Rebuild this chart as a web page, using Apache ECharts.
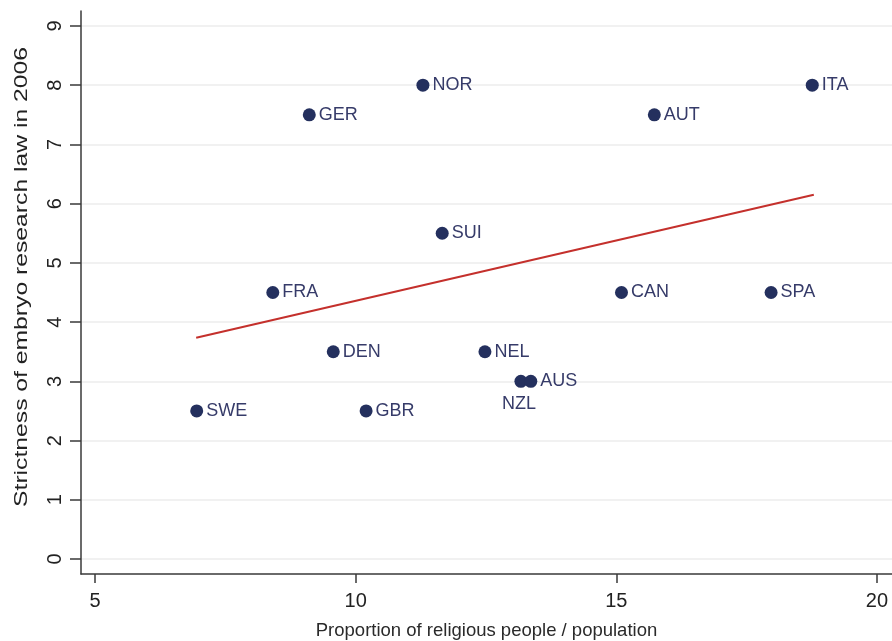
<!DOCTYPE html>
<html>
<head>
<meta charset="utf-8">
<script src="https://cdn.jsdelivr.net/npm/echarts@6/dist/echarts.min.js"></script>
<style>
  html, body { margin: 0; padding: 0; background: #fff; }
  #chart { width: 892px; height: 641px; }
</style>
</head>
<body>
<div id="chart"></div>
<script>
// Country codes with religiosity share and embryo research law strictness
const countries = ['SWE', 'FRA', 'GER', 'DEN', 'GBR', 'NOR', 'SUI', 'NEL', 'NZL', 'AUS', 'CAN', 'AUT', 'SPA', 'ITA'];
const religious = [6.95, 8.41, 9.11, 9.57, 10.20, 11.29, 11.66, 12.48, 13.17, 13.36, 15.10, 15.73, 17.97, 18.76];
const strictness = [2.5, 4.5, 7.5, 3.5, 2.5, 8, 5.5, 3.5, 3, 3, 4.5, 7.5, 4.5, 8];

// Fitted linear trend, drawn between its two end points
const fitX = [6.94, 18.79];
const fitY = [3.737, 6.152];

// Tick positions
const xTicks = [5, 10, 15, 20];
const yTicks = [0, 1, 2, 3, 4, 5, 6, 7, 8, 9];

const xTitle = 'Proportion of religious people / population';
const yTitle = 'Strictness of embryo research law in 2006';

const FONT = '"Liberation Sans", Arial, sans-serif';
const DOT = '#24305e';
const LABEL = '#363b69';
const INK = '#222222';
const AXIS = '#3a3a3a';

const points = countries.map((c, i) => ({
  name: c,
  value: [religious[i], strictness[i]],
  label: c === 'NZL'
    ? { position: 'bottom', distance: 7, offset: [-2, 0] }
    : undefined
}));

const chart = echarts.init(document.getElementById('chart'), null, { renderer: 'canvas' });
chart.setOption({
  animation: false,
  backgroundColor: '#ffffff',
  grid: { left: 81, top: 11, right: 0, bottom: 67, containLabel: false, outerBoundsMode: 'none' },
  // Vertical axis title, drawn as a stretched text element
  graphic: [{
    type: 'text',
    x: 22,
    y: 277,
    rotation: Math.PI / 2,
    scaleX: 1.3,
    style: {
      text: yTitle,
      font: '19px ' + FONT,
      fill: INK,
      textAlign: 'center',
      textVerticalAlign: 'middle'
    },
    silent: true
  }],
  xAxis: {
    type: 'value',
    min: 4.73,
    max: 20.29,
    name: xTitle,
    nameLocation: 'middle',
    nameGap: 47,
    nameTextStyle: { fontFamily: FONT, fontSize: 18.5, color: '#2a2a2a' },
    axisLine: { show: true, onZero: false, lineStyle: { color: AXIS, width: 1.5 } },
    axisTick: { show: true, customValues: xTicks, length: 9, lineStyle: { color: AXIS, width: 1.5 } },
    axisLabel: { customValues: xTicks, margin: 17, fontFamily: FONT, fontSize: 20, color: INK },
    splitLine: { show: false }
  },
  yAxis: {
    type: 'value',
    min: -0.253,
    max: 9.253,
    axisLine: { show: true, onZero: false, lineStyle: { color: AXIS, width: 1.5 } },
    axisTick: { show: true, customValues: yTicks, length: 11, lineStyle: { color: AXIS, width: 1.5 } },
    axisLabel: { customValues: yTicks, rotate: 90, margin: 16, fontFamily: FONT, fontSize: 20, color: INK },
    splitLine: { show: true, lineStyle: { color: '#ececec', width: 1.5 } }
  },
  series: [
    {
      type: 'line',
      data: fitX.map((x, i) => [x, fitY[i]]),
      symbol: 'none',
      lineStyle: { color: '#c4302c', width: 2 },
      silent: true,
      z: 2
    },
    {
      type: 'scatter',
      data: points,
      symbol: 'circle',
      symbolSize: 13,
      itemStyle: { color: DOT, opacity: 1 },
      label: {
        show: true,
        position: 'right',
        distance: 3,
        formatter: p => p.name,
        fontFamily: FONT,
        fontSize: 18,
        color: LABEL
      },
      z: 3
    }
  ]
});
</script>
</body>
</html>
